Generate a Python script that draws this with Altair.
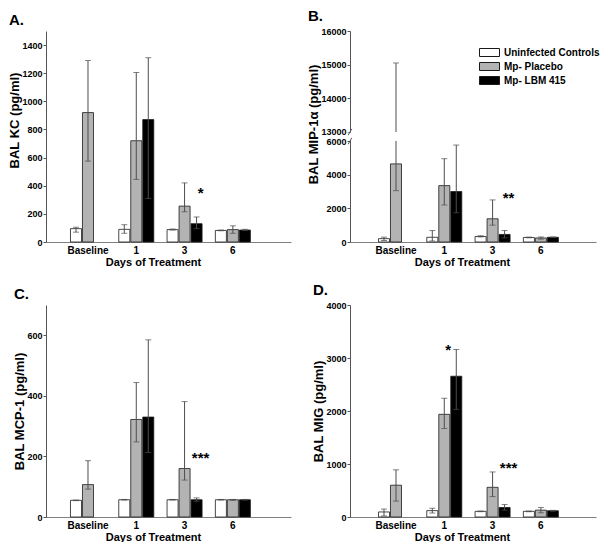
import altair as alt
import pandas as pd

DAYS = ["Baseline", "1", "3", "6"]
GROUPS = ["Uninfected Controls", "Mp- Placebo", "Mp- LBM 415"]
COLORS = ["#ffffff", "#b3b3b3", "#000000"]

# Panel A: BAL KC (pg/ml)
kc_ctrl = [95, 90, 88, 82]
kc_ctrl_lo = [70, 62, 85, 80]
kc_ctrl_hi = [105, 123, 92, 85]
kc_plac = [920, 720, 255, 88]
kc_plac_lo = [575, 445, 215, 62]
kc_plac_hi = [1290, 1205, 420, 115]
kc_lbm = [None, 870, 130, 85]
kc_lbm_lo = [None, 310, 95, 82]
kc_lbm_hi = [None, 1310, 178, 90]
kc_star_label = ["*"]
kc_star_day = ["3"]
kc_star_group = ["Mp- LBM 415"]
kc_star_y = [373]

# Panel B: BAL MIP-1α (pg/ml)
mip_ctrl = [200, 280, 330, 270]
mip_ctrl_lo = [90, 60, 300, 250]
mip_ctrl_hi = [290, 680, 370, 290]
mip_plac = [4640, 3350, 1380, 240]
mip_plac_lo = [3050, 2200, 1000, 170]
mip_plac_hi = [15050, 4950, 2500, 300]
mip_lbm = [None, 3000, 450, 280]
mip_lbm_lo = [None, 1740, 240, 260]
mip_lbm_hi = [None, 5760, 680, 300]
mip_star_label = ["**"]
mip_star_day = ["3"]
mip_star_group = ["Mp- LBM 415"]
mip_star_y = [2800]
mip_ticks = [0, 2000, 4000, 6000, 13000, 14000, 15000, 16000]

# Panel C: BAL MCP-1 (pg/ml)
mcp_ctrl = [55, 57, 57, 57]
mcp_ctrl_lo = [54, 56, 56, 56]
mcp_ctrl_hi = [56, 58, 58, 58]
mcp_plac = [107, 322, 160, 57]
mcp_plac_lo = [92, 248, 122, 55]
mcp_plac_hi = [186, 444, 381, 58]
mcp_lbm = [None, 330, 57, 57]
mcp_lbm_lo = [None, 213, 52, 56]
mcp_lbm_hi = [None, 585, 63, 58]
mcp_star_label = ["***"]
mcp_star_day = ["3"]
mcp_star_group = ["Mp- LBM 415"]
mcp_star_y = [205]

# Panel D: BAL MIG (pg/ml)
mig_ctrl = [95, 120, 107, 107]
mig_ctrl_lo = [20, 75, 100, 100]
mig_ctrl_hi = [150, 165, 112, 112]
mig_plac = [600, 1937, 560, 130]
mig_plac_lo = [300, 1670, 385, 80]
mig_plac_hi = [890, 2240, 850, 180]
mig_lbm = [None, 2656, 180, 118]
mig_lbm_lo = [None, 2030, 130, 110]
mig_lbm_hi = [None, 3160, 235, 125]
mig_star_label = ["*", "***"]
mig_star_day = ["1", "3"]
mig_star_group = ["Mp- Placebo", "Mp- LBM 415"]
mig_star_y = [3200, 990]

# broken axis of panel B: lower segment ends at 6000, upper starts at 13000
BRK_LO = 6000
BRK_HI = 13000
BRK_GAP = 535        # gap between the two segments, in lower-segment units
BRK_FACTOR = 2       # upper segment is drawn at twice the lower density

FONT = "Liberation Sans"
AXIS_GRAY = "#555555"
ERR = "#4d4d4d"


def table(means, los, his):
    rows = []
    for g, m, l, h in zip(GROUPS, means, los, his):
        for d, v, a, b in zip(DAYS, m, l, h):
            if v is not None:
                rows.append({"day": d, "group": g, "value": v, "lo": a, "hi": b})
    return pd.DataFrame(rows)


def star_table(labels, days, groups, ys):
    return pd.DataFrame({"label": labels, "day": days, "group": groups, "y": ys})


def brk_expr(field):
    return (f"datum.{field} <= {BRK_LO} ? datum.{field} : "
            f"{BRK_LO + BRK_GAP} + (datum.{field} - {BRK_HI}) * {BRK_FACTOR}")


LEGEND = alt.Legend(
    title=None, orient="none", legendX=134, legendY=16, padding=0,
    symbolType="M-2,-0.8H2V0.8H-2Z", symbolSize=100,
    symbolStrokeColor="#1a1a1a", symbolStrokeWidth=1,
    labelFont=FONT, labelFontSize=10, labelFontWeight="bold", labelColor="black",
    labelOffset=9, rowPadding=1,
)


def panel(df, stars, ydom, yvals, width, height, po, align, ytitle, title,
          xtitle_x, ytitle_y=None, broken=False, legend=False):
    xscale = alt.Scale(domain=DAYS, paddingInner=0.275, paddingOuter=po, align=align)
    xaxis = alt.Axis(title="Days of Treatment", labelAngle=0, ticks=False,
                     domainColor="#808080", labelFont=FONT, labelFontSize=10,
                     labelFontWeight="bold", labelColor="black", labelPadding=3,
                     titleFont=FONT, titleFontSize=11, titleFontWeight="bold",
                     titleColor="black", titlePadding=1, titleX=xtitle_x)
    X = alt.X("day:N", scale=xscale, axis=xaxis)
    xo = alt.XOffset("group:N", scale=alt.Scale(domain=GROUPS, paddingInner=0.08))
    ykw = dict(grid=False, tickSize=3, domainColor=AXIS_GRAY, format="d",
               tickColor=AXIS_GRAY, labelFont=FONT, labelFontSize=9,
               labelFontWeight="bold", labelColor="black", labelPadding=1,
               title=ytitle, titleFont=FONT, titleFontSize=13,
               titleFontWeight="bold", titleColor="black", titlePadding=0)
    if ytitle_y is not None:
        ykw["titleY"] = ytitle_y
    if broken:
        ykw["values"] = [v if v <= BRK_LO else BRK_LO + BRK_GAP + (v - BRK_HI) * BRK_FACTOR
                         for v in yvals]
        ykw["labelExpr"] = (f"datum.value <= {BRK_LO} ? format(datum.value, 'd') : "
                            f"format((datum.value - {BRK_LO + BRK_GAP}) / {BRK_FACTOR} + {BRK_HI}, 'd')")
        dmax = BRK_LO + BRK_GAP + (ydom[1] - BRK_HI) * BRK_FACTOR
        yscale = alt.Scale(domain=[0, dmax], nice=False, zero=False)
    else:
        ykw["values"] = yvals
        yscale = alt.Scale(domain=ydom, nice=False, zero=False)
    yaxis = alt.Axis(**ykw)

    def Y(f):
        return alt.Y(f"{f}:Q", scale=yscale, axis=yaxis)

    base = alt.Chart(df)
    if broken:
        base = base.transform_calculate(
            hi_d=brk_expr("hi"), lo_d=brk_expr("lo"),
            hi_low=f"min(datum.hi, {BRK_LO})", up_lo=str(BRK_LO + BRK_GAP))
    bars = base.mark_bar(stroke="#1a1a1a", strokeWidth=0.8).encode(
        x=X, xOffset=xo, y=Y("value"),
        color=alt.Color("group:N", scale=alt.Scale(domain=GROUPS, range=COLORS),
                        legend=LEGEND if legend else None),
    )
    layers = [bars]
    if broken:
        layers.append(base.mark_rule(color=ERR, strokeWidth=1).encode(
            x=X, xOffset=xo, y=Y("lo_d"), y2="hi_low:Q"))
        layers.append(base.transform_filter(f"datum.hi > {BRK_HI}").mark_rule(
            color=ERR, strokeWidth=1).encode(x=X, xOffset=xo, y=Y("up_lo"), y2="hi_d:Q"))
        lo_f, hi_f = "lo_d", "hi_d"
    else:
        layers.append(base.mark_rule(color=ERR, strokeWidth=1).encode(
            x=X, xOffset=xo, y=Y("lo"), y2="hi:Q"))
        lo_f, hi_f = "lo", "hi"
    layers.append(base.mark_tick(color=ERR, size=6, thickness=1).encode(
        x=X, xOffset=xo, y=Y(lo_f)))
    layers.append(base.mark_tick(color=ERR, size=6, thickness=1).encode(
        x=X, xOffset=xo, y=Y(hi_f)))
    layers.append(alt.Chart(stars).mark_text(
        font=FONT, fontSize=15, fontWeight="bold", dx=4, dy=3,
        baseline="middle", color="black").encode(
        x=X, xOffset=xo, y=Y("y"), text="label:N"))
    if broken:
        bdf = pd.DataFrame({"a": [BRK_LO], "b": [BRK_HI]})
        gap = alt.Chart(bdf).transform_calculate(
            a_d="datum.a + 40", b_d=f"{BRK_LO + BRK_GAP} - 40")
        layers.append(gap.mark_rect(color="white").encode(
            x=alt.value(-3), x2=alt.value(3), y=Y("a_d"), y2="b_d:Q"))
        sl = alt.Chart(pd.DataFrame({"v": [BRK_LO, BRK_HI]})).transform_calculate(
            v_d=brk_expr("v"))
        layers.append(sl.mark_point(
            shape="M-0.5,0.9L0.5,-0.9", size=50, filled=False, stroke=AXIS_GRAY,
            strokeWidth=1, opacity=1).encode(x=alt.value(0), y=Y("v_d")))
    ch = alt.layer(*layers).properties(
        width=width, height=height,
        title=alt.TitleParams(text=title, anchor="start", font=FONT, fontSize=15,
                              fontWeight="bold", color="black", offset=3, frame="bounds"))
    return ch


dfA = table([kc_ctrl, kc_plac, kc_lbm], [kc_ctrl_lo, kc_plac_lo, kc_lbm_lo], [kc_ctrl_hi, kc_plac_hi, kc_lbm_hi])
dfB = table([mip_ctrl, mip_plac, mip_lbm], [mip_ctrl_lo, mip_plac_lo, mip_lbm_lo], [mip_ctrl_hi, mip_plac_hi, mip_lbm_hi])
dfC = table([mcp_ctrl, mcp_plac, mcp_lbm], [mcp_ctrl_lo, mcp_plac_lo, mcp_lbm_lo], [mcp_ctrl_hi, mcp_plac_hi, mcp_lbm_hi])
dfD = table([mig_ctrl, mig_plac, mig_lbm], [mig_ctrl_lo, mig_plac_lo, mig_lbm_lo], [mig_ctrl_hi, mig_plac_hi, mig_lbm_hi])

sA = star_table(kc_star_label, kc_star_day, kc_star_group, kc_star_y)
sB = star_table(mip_star_label, mip_star_day, mip_star_group, mip_star_y)
sC = star_table(mcp_star_label, mcp_star_day, mcp_star_group, mcp_star_y)
sD = star_table(mig_star_label, mig_star_day, mig_star_group, mig_star_y)

A = panel(dfA, sA, [0, 1500], [0, 200, 400, 600, 800, 1000, 1200, 1400], 245, 211,
          0.674, 0.376, "BAL KC (pg/ml)", "A.", xtitle_x=107, ytitle_y=89)
B = panel(dfB, sB, [0, 16000], mip_ticks, 246, 211,
          0.684, 0.431, "BAL MIP-1α (pg/ml)", "B.", xtitle_x=112, ytitle_y=93,
          broken=True, legend=True)
C = panel(dfC, sC, [0, 700], [0, 200, 400, 600], 245, 212,
          0.674, 0.376, "BAL MCP-1 (pg/ml)", "C.", xtitle_x=107)
D = panel(dfD, sD, [0, 4000], [0, 1000, 2000, 3000, 4000], 246, 212,
          0.684, 0.431, "BAL MIG (pg/ml)", "D.", xtitle_x=112)

chart = alt.concat(A, B, C, D, columns=2, spacing={"row": 16, "column": 16}).properties(
    padding={"left": 0, "top": 1, "right": 0, "bottom": 0}
).resolve_legend(color="independent").resolve_scale(color="independent").configure_view(stroke=None)

chart.save("out.html", embed_options={"renderer": "svg", "actions": False})
